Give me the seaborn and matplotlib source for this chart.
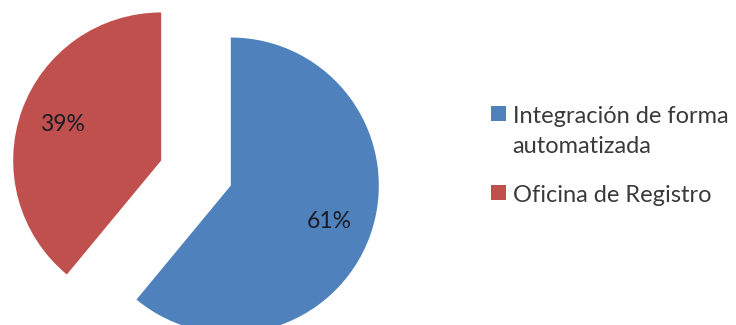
import matplotlib
matplotlib.use("Agg")
import matplotlib.pyplot as plt
import seaborn as sns

# Share of records by registration channel
categories = ["Integración de forma\nautomatizada", "Oficina de Registro"]
shares = [61, 39]
colors = ["#4F81BD", "#C0504D"]

sns.set_theme(style="white")
plt.rcParams["font.family"] = ["Lato", "DejaVu Sans"]

fig = plt.figure(figsize=(7.36, 3.25), dpi=100)
ax = fig.add_axes([0, 0, 1, 1])

wedges, texts, autotexts = ax.pie(
    shares,
    colors=colors,
    startangle=90,
    counterclock=False,
    explode=(0.25, 0.25),
    autopct="%1.0f%%",
    pctdistance=0.71,
    radius=1.0,
    center=(0, 0),
    textprops=dict(fontsize=16.5, color="#1c1c24"),
    wedgeprops=dict(linewidth=0),
)

# one data unit = pie radius (148 px)
ax.set_xlim(-196 / 148, 540 / 148)
ax.set_ylim((173 - 325) / 148, 173 / 148)
ax.set_aspect("auto")
ax.axis("off")

leg = ax.legend(
    wedges,
    categories,
    loc="upper left",
    bbox_to_anchor=(482 / 736, 1 - 97 / 325),
    frameon=False,
    fontsize=17,
    handlelength=0.6,
    handleheight=0.6,
    handletextpad=0.3,
    labelspacing=1.2,
    borderaxespad=0,
)
# keep each colour square level with the first line of its label
for column in leg._legend_handle_box.get_children():
    for row in column.get_children():
        row.align = "top"
for t in leg.get_texts():
    t.set_color("#3a3a3a")
    t.set_linespacing(1.5)

fig.savefig("out.png", dpi=100, facecolor="white")
